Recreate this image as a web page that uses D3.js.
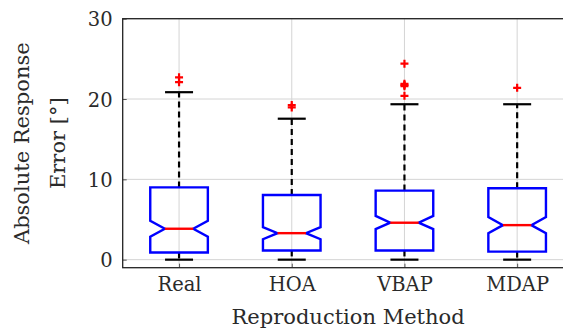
<!DOCTYPE html>
<html>
<head>
<meta charset="utf-8">
<script src="https://cdn.jsdelivr.net/npm/d3@7"></script>
<style>
  body { margin: 0; background: #fff; }
  text { font-family: "DejaVu Serif", "Liberation Serif", serif; fill: #2a2a2a; }
</style>
</head>
<body>
<svg id="chart"></svg>
<script>
// box statistics (degrees)
const methods = ["Real", "HOA", "VBAP", "MDAP"];
const whiskerLow = [0, 0, 0, 0];
const q1 = [0.9, 1.15, 1.15, 1.0];
const notchLow = [2.85, 2.55, 3.8, 3.3];
const median = [3.85, 3.3, 4.6, 4.3];
const notchHigh = [4.85, 4.05, 5.45, 5.3];
const q3 = [9.0, 8.05, 8.6, 8.9];
const whiskerHigh = [20.85, 17.55, 19.35, 19.35];
const outliers = [
  [22.1, 22.7],
  [18.95, 19.25],
  [20.4, 21.6, 21.75, 21.9, 24.4],
  [21.4]
];
const yTicks = [0, 10, 20, 30];

const width = 563, height = 329;
const svg = d3.select("#chart").attr("width", width).attr("height", height);

const x = d3.scaleLinear().domain([0.5, 4.5]).range([122.7, 573.5]);
const y = d3.scaleLinear().domain([-1, 30]).range([267.7, 18.7]);

const boxHalf = 28.8, notchHalf = 14.2, capHalf = 14;

// grid
svg.append("g").selectAll("line").data(yTicks).enter().append("line")
  .attr("x1", x.range()[0]).attr("x2", x.range()[1])
  .attr("y1", d => y(d)).attr("y2", d => y(d))
  .attr("stroke", "#d4d4d4").attr("stroke-width", 1);
svg.append("g").selectAll("line").data(methods).enter().append("line")
  .attr("x1", (d, i) => x(i + 1)).attr("x2", (d, i) => x(i + 1))
  .attr("y1", y.range()[0]).attr("y2", y.range()[1])
  .attr("stroke", "#d4d4d4").attr("stroke-width", 1);

// axes
const yAxis = svg.append("g").attr("transform", `translate(${x.range()[0]},0)`)
  .call(d3.axisLeft(y).tickValues(yTicks).tickSizeInner(-4).tickSizeOuter(0).tickPadding(10));
const xAxis = svg.append("g").attr("transform", `translate(0,${y.range()[0]})`)
  .call(d3.axisBottom(x).tickValues([1, 2, 3, 4]).tickFormat((d) => methods[d - 1])
    .tickSizeInner(-4).tickSizeOuter(0).tickPadding(10));
[yAxis, xAxis].forEach(g => {
  g.select(".domain").remove();
  g.selectAll(".tick line").attr("stroke", "#555");
  g.selectAll("text").style("font-family", '"DejaVu Serif", serif').style("font-size", "19.5px").attr("fill", "#2a2a2a");
});
yAxis.selectAll("text").attr("dy", "0.36em");
xAxis.selectAll("text").attr("dy", "0.7em");

// frame
svg.append("rect")
  .attr("x", x.range()[0]).attr("y", y.range()[1])
  .attr("width", x.range()[1] - x.range()[0]).attr("height", y.range()[0] - y.range()[1])
  .attr("fill", "none").attr("stroke", "#222").attr("stroke-width", 1.3);

// boxes
const g = svg.append("g");
methods.forEach((m, i) => {
  const cx = x(i + 1);
  // whiskers
  g.append("line").attr("x1", cx).attr("x2", cx)
    .attr("y1", y(q3[i])).attr("y2", y(whiskerHigh[i]))
    .attr("stroke", "#000").attr("stroke-width", 2.2).attr("stroke-dasharray", "6,4");
  g.append("line").attr("x1", cx).attr("x2", cx)
    .attr("y1", y(q1[i])).attr("y2", y(whiskerLow[i]))
    .attr("stroke", "#000").attr("stroke-width", 2.2).attr("stroke-dasharray", "6,4");
  [whiskerHigh[i], whiskerLow[i]].forEach(v => {
    g.append("line").attr("x1", cx - capHalf).attr("x2", cx + capHalf)
      .attr("y1", y(v)).attr("y2", y(v))
      .attr("stroke", "#000").attr("stroke-width", 2.2);
  });
  // notched box
  const pts = [
    [cx - boxHalf, y(q1[i])], [cx - boxHalf, y(notchLow[i])], [cx - notchHalf, y(median[i])],
    [cx - boxHalf, y(notchHigh[i])], [cx - boxHalf, y(q3[i])], [cx + boxHalf, y(q3[i])],
    [cx + boxHalf, y(notchHigh[i])], [cx + notchHalf, y(median[i])], [cx + boxHalf, y(notchLow[i])],
    [cx + boxHalf, y(q1[i])]
  ];
  g.append("path").attr("d", d3.line()(pts) + "Z")
    .attr("fill", "none").attr("stroke", "#0000ff").attr("stroke-width", 2.4)
    .attr("stroke-linejoin", "miter");
  g.append("line").attr("x1", cx - notchHalf).attr("x2", cx + notchHalf)
    .attr("y1", y(median[i])).attr("y2", y(median[i]))
    .attr("stroke", "#ff0000").attr("stroke-width", 2.4);
  // outliers
  outliers[i].forEach(v => {
    const oy = y(v);
    g.append("path").attr("d", `M${cx - 4},${oy}H${cx + 4}M${cx},${oy - 4}V${oy + 4}`)
      .attr("stroke", "#ff0000").attr("stroke-width", 2.2);
  });
});

// axis labels
svg.append("text").attr("x", (x.range()[0] + x.range()[1]) / 2).attr("y", 324)
  .attr("text-anchor", "middle").style("font-size", "21px").text("Reproduction Method");
const yl = svg.append("text").attr("text-anchor", "middle")
  .attr("transform", `translate(0,${(y.range()[0] + y.range()[1]) / 2}) rotate(-90)`)
  .style("font-size", "21px");
yl.append("tspan").attr("x", 0).attr("y", 29).text("Absolute Response");
yl.append("tspan").attr("x", 0).attr("y", 65).text("Error [°]");
</script>
</body>
</html>
